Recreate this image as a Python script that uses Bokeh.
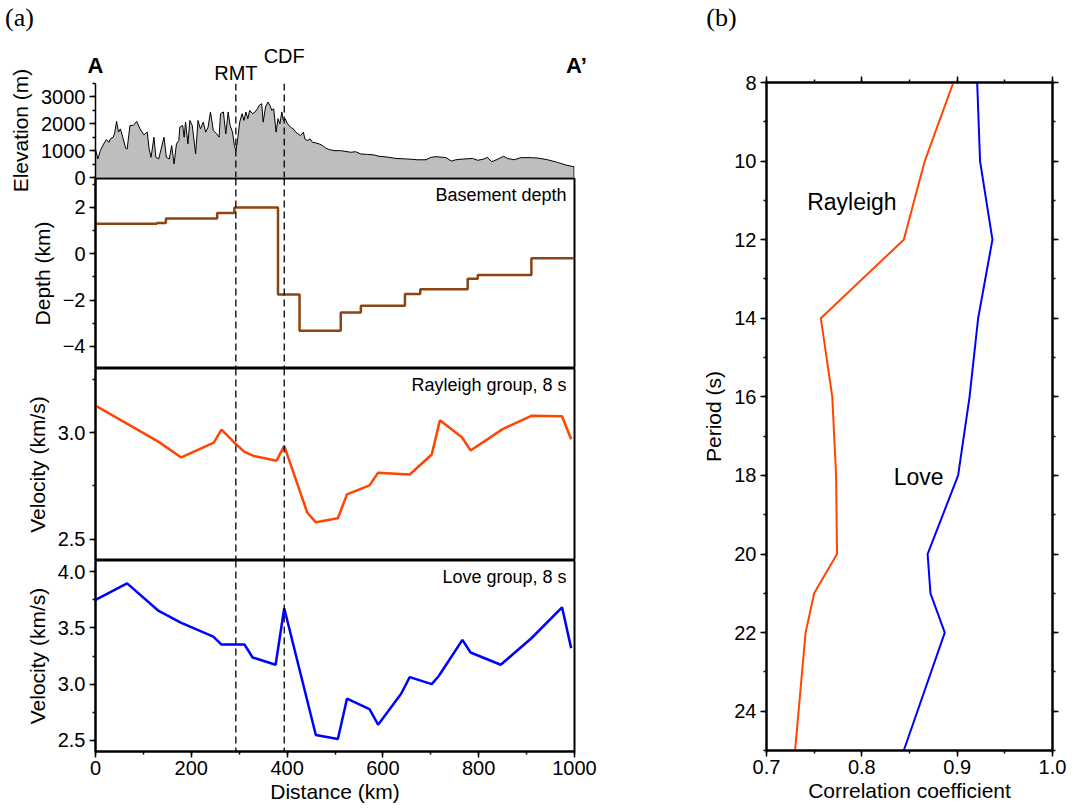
from bokeh.plotting import figure
from bokeh.layouts import row, column
from bokeh.core.properties import value
from bokeh.models import (Range1d, SingleIntervalTicker, LinearAxis, Span, Label,
                          CustomJSTickFormatter, NumeralTickFormatter)
from bokeh.embed import file_html
from bokeh.resources import INLINE

# ---------------- data ----------------
# Topography along profile A-A'
elev_km = [0, 5, 10, 17, 23, 28, 31, 37, 40, 44, 48, 52, 57, 63, 66, 72, 79, 86, 93, 101,
           108, 112, 116, 122, 126, 132, 137, 143, 148, 154, 159, 164, 169, 174, 176, 182,
           185, 188, 193, 197, 202, 209, 214, 219, 225, 230, 235, 240, 246, 253, 258, 261,
           267, 272, 277, 281, 286, 290, 293, 296, 301, 306, 310, 314, 318, 322, 328, 333,
           338, 342, 347, 350, 355, 360, 364, 368, 372, 377, 381, 385, 389, 392, 396, 401,
           407, 413, 418, 423, 428, 434, 437, 442, 448, 453, 460, 467, 474, 481, 488, 498,
           512, 533, 543, 554, 568, 582, 592, 610, 627, 651, 672, 690, 700, 711, 732, 743,
           752, 763, 787, 798, 811, 818, 827, 836, 852, 860, 874, 888, 905, 923, 944, 965,
           983, 999]
elev_m = [1060, 690, 1000, 1250, 1410, 1310, 1440, 1500, 1660, 2090, 1690, 1810, 1500, 1090,
          1060, 1940, 1940, 2090, 1810, 1590, 1690, 1060, 750, 1500, 750, 690, 1060, 1500,
          750, 690, 1190, 500, 1250, 1375, 1875, 1940, 1500, 2060, 1250, 2125, 1940, 875,
          2125, 1810, 2060, 1690, 1875, 2440, 1750, 1625, 1500, 2375, 2440, 1625, 2440, 1940,
          1690, 1190, 1000, 1310, 2060, 2375, 2125, 2440, 2190, 2500, 2375, 2440, 2560, 2690,
          2750, 2060, 2625, 2810, 2690, 2500, 2560, 1690, 2190, 2000, 2440, 2125, 2190, 2000,
          1875, 1810, 1690, 1625, 1560, 1690, 1440, 1375, 1440, 1310, 1290, 1250, 1190, 1090,
          1040, 1000, 1000, 940, 960, 875, 860, 840, 790, 760, 710, 690, 660, 660, 750, 775,
          740, 610, 660, 680, 710, 640, 690, 750, 590, 650, 790, 710, 660, 740, 740, 725, 660,
          560, 460, 400]

# Profile ends and faults
profile_names = ["A", "A\u2019"]
profile_km = [0, 1000]
fault_names = ["RMT", "CDF"]
fault_km = [293, 394]

# Basement depth (step function)
basement_edges_km = [0, 128, 147, 254, 290, 381, 426, 512, 554, 646, 678, 777, 798, 910, 1000]
basement_depth_km = [1.30, 1.33, 1.52, 1.76, 2.00, -1.76, -3.32, -2.53, -2.24, -1.73, -1.53,
                     -1.08, -0.91, -0.19]

# Rayleigh group velocity, 8 s
rayleigh_km = [0, 132, 179, 247, 263, 293, 311, 330, 378, 394, 442, 460, 506, 525, 572, 590,
               656, 702, 719, 765, 783, 850, 911, 974, 993]
rayleigh_vel = [3.126, 2.956, 2.883, 2.953, 3.013, 2.946, 2.909, 2.890, 2.868, 2.937, 2.625,
                2.579, 2.598, 2.710, 2.752, 2.811, 2.803, 2.897, 3.057, 2.978, 2.916, 3.016,
                3.079, 3.076, 2.968]

# Love group velocity, 8 s
love_km = [0, 66, 132, 178, 246, 263, 311, 328, 376, 394, 460, 506, 525, 572, 590, 638, 656,
           702, 717, 766, 783, 846, 910, 974, 993]
love_vel = [3.749, 3.896, 3.651, 3.547, 3.423, 3.352, 3.352, 3.237, 3.172, 3.675, 2.547, 2.512,
            2.870, 2.778, 2.639, 2.914, 3.062, 3.000, 3.074, 3.393, 3.281, 3.172, 3.408, 3.683,
            3.320]

# Panel (b): correlation coefficient vs period
period_s = [8, 10, 12, 14, 16, 18, 20, 21, 22, 25]
rayleigh_cc = [0.896, 0.866, 0.844, 0.757, 0.769, 0.773, 0.774, 0.750, 0.741, 0.730]
love_cc = [0.921, 0.924, 0.937, 0.922, 0.913, 0.901, 0.869, 0.872, 0.887, 0.844]

# ---------------- style ----------------
FONT = "Liberation Sans"
SERIF = "Liberation Serif"
ORANGE = "#FF4500"
BLUE = "#0000FF"
BROWN = "#8B4513"
GRAY = "#BEBEBE"

LEFT_B, FRAME_W, RIGHT_B = 95, 479, 66   # left column geometry (px)
HEAD_H = 83                               # header height above elevation frame
OVERLAP = 22                              # room below the elevation frame for its axis texts
KM_PER_PX = 1000 / FRAME_W
B_LEFT, B_FRAME_W, B_RIGHT, B_TOP = 126, 286, 20, 82

MINUS_FMT = CustomJSTickFormatter(code="return tick < 0 ? '\u2212' + Math.abs(tick) : String(tick);")
EMPTY_FMT = CustomJSTickFormatter(code="return '';")


def style_axis(ax, lw=2):
    ax.axis_line_color = "black"
    ax.axis_line_width = lw
    ax.major_tick_line_color = "black"
    ax.major_tick_line_width = 1.5
    ax.minor_tick_line_color = "black"
    ax.minor_tick_line_width = 1.5
    ax.major_tick_out = 6
    ax.major_tick_in = 0
    ax.minor_tick_out = 3
    ax.minor_tick_in = 0
    ax.major_label_text_font = FONT
    ax.major_label_text_font_size = "20px"
    ax.major_label_text_color = "black"
    ax.axis_label_text_font = FONT
    ax.axis_label_text_font_size = "21px"
    ax.axis_label_text_font_style = "normal"
    ax.axis_label_text_color = "black"
    ax.major_label_standoff = 4
    ax.axis_label_standoff = 6


def bare(p):
    p.xgrid.grid_line_color = None
    p.ygrid.grid_line_color = None
    p.outline_line_color = None
    p.background_fill_color = None
    p.border_fill_color = None
    return p


def make_left(y_range, frame_h, top, bottom, outline=True, x_axis=False):
    p = figure(frame_width=FRAME_W, frame_height=frame_h, x_range=Range1d(0, 1000), y_range=y_range,
               min_border_left=LEFT_B, min_border_right=RIGHT_B, min_border_top=top,
               min_border_bottom=bottom, x_axis_location="below" if x_axis else None,
               title=None, output_backend="svg", toolbar_location=None)
    p.xgrid.grid_line_color = None
    p.ygrid.grid_line_color = None
    p.background_fill_color = "white"
    p.border_fill_color = None
    if outline:
        p.outline_line_color = "black"
        p.outline_line_width = 2
        p.outline_line_alpha = 1
    else:
        p.outline_line_color = None
    for km in fault_km:
        p.add_layout(Span(location=km, dimension="height", line_color="black",
                          line_width=1.3, line_dash="7 4"))
    return p


def panel_text(p, text):
    p.add_layout(Label(x=p.x_range.end, y=p.y_range.end, x_offset=-8, y_offset=-6,
                       text=text, text_align="right", text_baseline="top",
                       text_font=FONT, text_font_size="18px", text_color="black"))


# ---- Header above panel (a): x in km (same scale as the panels), y in px from top ----
head = bare(figure(frame_width=LEFT_B + FRAME_W + RIGHT_B, frame_height=HEAD_H,
                   x_range=Range1d(-LEFT_B * KM_PER_PX, (FRAME_W + RIGHT_B) * KM_PER_PX),
                   y_range=Range1d(HEAD_H, 0), min_border=0,
                   x_axis_location=None, y_axis_location=None, title=None,
                   output_backend="svg", toolbar_location=None))
head.text(x=fault_km, y=[72, 55], text=fault_names, text_align="center",
          text_baseline="middle", text_font=value(FONT), text_font_size=value("20px"),
          text_color="black")
head.text(x=profile_km, y=[65, 65], x_offset=[0, 2], text=profile_names, text_align="center",
          text_baseline="middle", text_font=value(FONT), text_font_size=value("22px"),
          text_font_style="bold", text_color="black")
head.text(x=[-76 * KM_PER_PX], y=[17], text=["(a)"], text_align="center",
          text_baseline="middle", text_font=value(SERIF), text_font_size=value("26px"),
          text_color="black")

# ---- Header above panel (b), px coordinates ----
bhead = bare(figure(frame_width=B_LEFT + B_FRAME_W + B_RIGHT, frame_height=HEAD_H,
                    x_range=Range1d(0, B_LEFT + B_FRAME_W + B_RIGHT), y_range=Range1d(HEAD_H, 0),
                    min_border=0, x_axis_location=None, y_axis_location=None, title=None,
                    output_backend="svg", toolbar_location=None))
bhead.text(x=[81], y=[17], text=["(b)"], text_align="center", text_baseline="middle",
           text_font=value(SERIF), text_font_size=value("26px"), text_color="black")

# ---- Elevation ----
pe = make_left(Range1d(0, 3500), 94, HEAD_H, OVERLAP, outline=False)
pe.background_fill_color = None
pe.varea(x=elev_km, y1=0, y2=elev_m, fill_color=GRAY)
pe.line(x=elev_km + [elev_km[-1]], y=elev_m + [0], line_color="black", line_width=1)
pe.yaxis.ticker = SingleIntervalTicker(interval=1000, num_minor_ticks=2)
pe.yaxis.axis_label = "Elevation (m)"
style_axis(pe.yaxis[0], lw=1.5)

# ---- Basement depth ----
pbase = make_left(Range1d(-4.95, 3.25), 190, 1, 0)
pbase.margin = (-OVERLAP, 0, 0, 0)
pbase.step(x=basement_edges_km, y=basement_depth_km + [basement_depth_km[-1]], mode="after",
           line_color=BROWN, line_width=2.5)
pbase.yaxis.ticker = SingleIntervalTicker(interval=2, num_minor_ticks=2)
pbase.yaxis.formatter = MINUS_FMT
pbase.yaxis.axis_label = "Depth (km)"
style_axis(pbase.yaxis[0])
panel_text(pbase, "Basement depth")

# ---- Rayleigh ----
pray = make_left(Range1d(2.4, 3.3), 192, 0, 0)
pray.line(x=rayleigh_km, y=rayleigh_vel, line_color=ORANGE, line_width=2.5)
pray.yaxis.ticker = SingleIntervalTicker(interval=0.5, num_minor_ticks=2)
pray.yaxis.formatter = NumeralTickFormatter(format="0.0")
pray.yaxis.axis_label = "Velocity (km/s)"
style_axis(pray.yaxis[0])
panel_text(pray, "Rayleigh group, 8 s")

# ---- Love ----
plove = make_left(Range1d(2.4, 4.1), 191, 0, 60, x_axis=True)
plove.line(x=love_km, y=love_vel, line_color=BLUE, line_width=2.5)
plove.yaxis.ticker = SingleIntervalTicker(interval=0.5, num_minor_ticks=2)
plove.yaxis.formatter = NumeralTickFormatter(format="0.0")
plove.yaxis.axis_label = "Velocity (km/s)"
plove.xaxis.ticker = SingleIntervalTicker(interval=200, num_minor_ticks=2)
plove.xaxis.axis_label = "Distance (km)"
style_axis(plove.yaxis[0])
style_axis(plove.xaxis[0])
plove.xaxis.major_label_standoff = 3
plove.xaxis.axis_label_standoff = 2
panel_text(plove, "Love group, 8 s")

# ---- Panel (b) ----
pb = figure(frame_width=B_FRAME_W, frame_height=668, x_range=Range1d(0.7, 1.0), y_range=Range1d(25, 8),
            min_border_left=B_LEFT, min_border_right=B_RIGHT, min_border_top=B_TOP, min_border_bottom=61,
            title=None, output_backend="svg", toolbar_location=None)
pb.border_fill_color = None
pb.background_fill_color = "white"
pb.xgrid.grid_line_color = None
pb.ygrid.grid_line_color = None
pb.outline_line_color = "black"
pb.outline_line_width = 2
pb.line(x=rayleigh_cc, y=period_s, line_color=ORANGE, line_width=2)
pb.line(x=love_cc, y=period_s, line_color=BLUE, line_width=2)
pb.xaxis.ticker = SingleIntervalTicker(interval=0.1, num_minor_ticks=2)
pb.xaxis.formatter = NumeralTickFormatter(format="0.0")
pb.xaxis.axis_label = "Correlation coefficient"
pb.yaxis.ticker = SingleIntervalTicker(interval=2, num_minor_ticks=2)
pb.yaxis.axis_label = "Period (s)"
style_axis(pb.xaxis[0])
style_axis(pb.yaxis[0])
pb.xaxis.major_label_standoff = 3
pb.xaxis.axis_label_standoff = 2
top_ax = LinearAxis(ticker=SingleIntervalTicker(interval=0.1, num_minor_ticks=2), formatter=EMPTY_FMT)
right_ax = LinearAxis(ticker=SingleIntervalTicker(interval=2, num_minor_ticks=2), formatter=EMPTY_FMT)
pb.add_layout(top_ax, "above")
pb.add_layout(right_ax, "right")
style_axis(top_ax)
style_axis(right_ax)
pb.add_layout(Label(x=0.7896, y=11.05, text="Rayleigh", text_align="center",
                    text_baseline="middle", text_font=FONT, text_font_size="23px",
                    text_color="black"))
pb.add_layout(Label(x=0.8596, y=18.05, text="Love", text_align="center",
                    text_baseline="middle", text_font=FONT, text_font_size="23px",
                    text_color="black"))

headers = row(head, bhead, spacing=0)
body = row(column(pe, pbase, pray, plove, spacing=0), pb, spacing=0)
body.margin = (-HEAD_H, 0, 0, 0)
layout = column(headers, body, spacing=0)

with open("out.html", "w", encoding="utf-8") as f:
    f.write(file_html(layout, INLINE))
